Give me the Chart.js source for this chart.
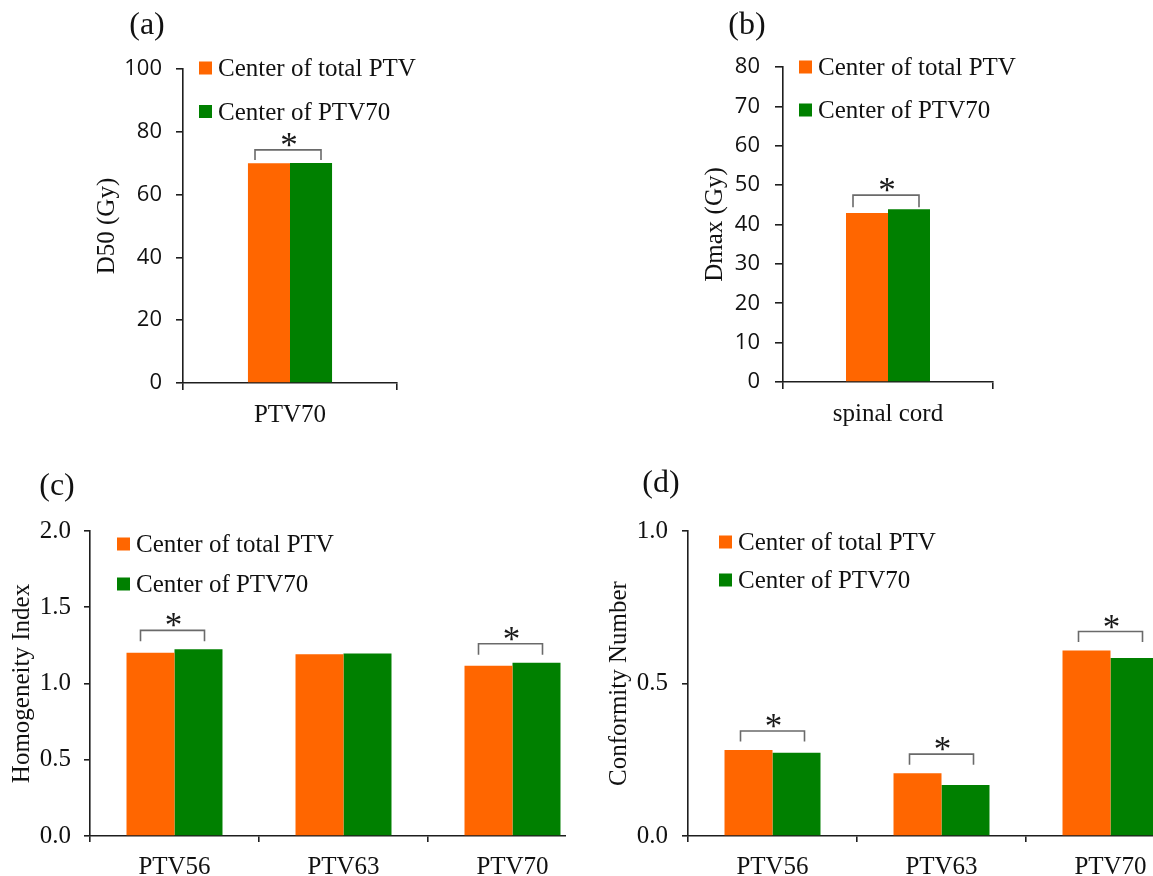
<!DOCTYPE html>
<html><head><meta charset="utf-8">
<script src="https://cdn.jsdelivr.net/npm/chart.js@4.4.1/dist/chart.umd.min.js"></script>
<style>
html,body{margin:0;padding:0;background:#fff;overflow:hidden;width:1153px;height:876px;}
.clip{position:absolute;left:0;top:0;height:876px;overflow:hidden;}
canvas{position:absolute;left:0;top:0;}
</style></head><body>
<div class="clip" style="width:560px"><canvas id="ca" width="560" height="876" style="width:560px;height:876px"></canvas></div>
<div class="clip" style="width:1153px"><canvas id="cb" width="1153" height="876" style="width:1153px;height:876px"></canvas></div>
<div class="clip" style="width:566px"><canvas id="cc" width="600" height="876" style="width:600px;height:876px"></canvas></div>
<div class="clip" style="width:1153px"><canvas id="cd" width="1200" height="876" style="width:1200px;height:876px"></canvas></div>
<script>
// ---- data ----
const seriesNames = ['Center of total PTV', 'Center of PTV70'];

const aCategories = ['PTV70'];
const aTotalPTV = [70.0];
const aPTV70 = [70.1];
const aSignificant = [true];
const aYTicks = [0, 20, 40, 60, 80, 100];
const aYTitle = 'D50 (Gy)';
const aPanel = '(a)';

const bCategories = ['spinal cord'];
const bTotalPTV = [42.9];
const bPTV70 = [43.9];
const bSignificant = [true];
const bYTicks = [0, 10, 20, 30, 40, 50, 60, 70, 80];
const bYTitle = 'Dmax (Gy)';
const bPanel = '(b)';

const cCategories = ['PTV56', 'PTV63', 'PTV70'];
const cTotalPTV = [1.202, 1.191, 1.117];
const cPTV70 = [1.224, 1.197, 1.136];
const cSignificant = [true, false, true];
const cYTicks = [0.0, 0.5, 1.0, 1.5, 2.0];
const cYTitle = 'Homogeneity Index';
const cPanel = '(c)';

const dCategories = ['PTV56', 'PTV63', 'PTV70'];
const dTotalPTV = [0.282, 0.206, 0.608];
const dPTV70 = [0.273, 0.167, 0.584];
const dSignificant = [true, true, true];
const dYTicks = [0.0, 0.5, 1.0];
const dYTitle = 'Conformity Number';
const dPanel = '(d)';

// ---- style ----
const ORANGE = '#FF6600', GREEN = '#008000', AXIS = '#1e1e1e', TXT = '#111';
const SERIF = '"Liberation Serif", "Times New Roman", serif';
const SANS = '"Open Sans", "DejaVu Sans", sans-serif';

const annot = {
  id: 'annot',
  afterDraw(chart, args, o) {
    const ctx = chart.ctx, xs = chart.scales.x, ys = chart.scales.y, ca = chart.chartArea;
    const ds = chart.data.datasets;
    ctx.save();
    ctx.fillStyle = TXT; ctx.textAlign = 'center'; ctx.textBaseline = 'middle';
    ctx.font = '32px ' + SERIF;
    ctx.fillText(o.panel, o.panelX, o.panelY);
    ds.forEach((d, i) => {
      const cy = ca.top + o.legendY[i], lx = ca.left + o.legendX;
      ctx.fillStyle = d.backgroundColor;
      ctx.fillRect(lx, cy - o.sq / 2, o.sq, o.sq);
      ctx.fillStyle = TXT; ctx.textAlign = 'left'; ctx.textBaseline = 'alphabetic';
      ctx.font = o.legendSize + 'px ' + SERIF;
      ctx.fillText(d.label, lx + o.sq + 6, cy + 8);
    });
    o.sig.forEach((s, i) => {
      if (!s) return;
      const cx = xs.getPixelForValue(i) + o.bOff;
      const top = Math.min(...ds.map(d => ys.getPixelForValue(d.data[i])));
      const yb = top - o.gap, yt = yb - o.bh;
      ctx.strokeStyle = '#6a6a6a'; ctx.lineWidth = 1.6;
      ctx.beginPath();
      ctx.moveTo(cx - o.bw, yb); ctx.lineTo(cx - o.bw, yt);
      ctx.lineTo(cx + o.bw, yt); ctx.lineTo(cx + o.bw, yb);
      ctx.stroke();
      ctx.fillStyle = '#1a1a1a'; ctx.textAlign = 'center'; ctx.textBaseline = 'alphabetic';
      ctx.font = '35px ' + SERIF;
      ctx.fillText('*', cx + 1, yt + 7);
    });
    ctx.restore();
  }
};

function makeChart(id, p) {
  const cv = document.getElementById(id);
  const cw = cv.width;
  return new Chart(cv, {
    type: 'bar',
    data: {
      labels: p.categories,
      datasets: [
        { label: seriesNames[0], data: p.s1, backgroundColor: ORANGE, borderWidth: 0, categoryPercentage: p.cp, barPercentage: 1 },
        { label: seriesNames[1], data: p.s2, backgroundColor: GREEN, borderWidth: 0, categoryPercentage: p.cp, barPercentage: 1 }
      ]
    },
    options: {
      responsive: false, animation: false, events: [],
      layout: { padding: { left: p.L - p.W, top: p.T, right: cw - p.R, bottom: 876 - p.B - p.H } },
      plugins: {
        legend: { display: false }, tooltip: { enabled: false },
        annot: p.annot
      },
      scales: {
        x: {
          type: 'category', offset: true,
          grid: { offset: true, drawOnChartArea: false, drawTicks: true, tickLength: p.xtl, color: AXIS, lineWidth: 1.6 },
          border: { display: true, color: AXIS, width: 1.6 },
          ticks: { font: { family: SERIF, size: 25 }, color: TXT, padding: p.xpad, maxRotation: 0, autoSkip: false },
          afterFit(s) { s.height = p.H; s.paddingLeft = 0; s.paddingRight = 0; }
        },
        y: {
          min: p.yTicks[0], max: p.yTicks[p.yTicks.length - 1],
          afterBuildTicks(s) { s.ticks = p.yTicks.map(v => ({ value: v })); },
          grid: { drawOnChartArea: false, drawTicks: true, tickLength: p.ytl, color: AXIS, lineWidth: 1.6 },
          border: { display: true, color: AXIS, width: 1.6 },
          ticks: { font: p.tickFont, color: TXT, padding: p.ypad, callback: v => Number(v).toFixed(p.dec) },
          title: { display: true, text: p.yTitle, font: { family: SERIF, size: 25 }, color: TXT, padding: 0 },
          afterFit(s) { s.width = p.W; s.paddingTop = 0; s.paddingBottom = 0; }
        }
      }
    },
    plugins: [annot]
  });
}

makeChart('ca', {
  categories: aCategories, s1: aTotalPTV, s2: aPTV70, yTicks: aYTicks, yTitle: aYTitle, dec: 0,
  L: 183, R: 397, T: 69, B: 383, W: 91, H: 60, cp: 0.393,
  xtl: 7, xpad: 10, ytl: 7, ypad: 14, tickFont: { family: SANS, size: 22 },
  annot: { panel: aPanel, panelX: 147, panelY: 26, legendX: 16, legendY: [-1, 42.5], sq: 13, legendSize: 25,
           sig: aSignificant, bw: 33, bOff: -2, gap: 3, bh: 10 }
});
makeChart('cb', {
  categories: bCategories, s1: bTotalPTV, s2: bPTV70, yTicks: bYTicks, yTitle: bYTitle, dec: 0,
  L: 783, R: 993, T: 67, B: 382, W: 83, H: 60, cp: 0.4,
  xtl: 7, xpad: 10, ytl: 8, ypad: 15, tickFont: { family: SANS, size: 22 },
  annot: { panel: bPanel, panelX: 747, panelY: 26, legendX: 16, legendY: [0, 43], sq: 13, legendSize: 25,
           sig: bSignificant, bw: 33, bOff: -2, gap: 2, bh: 12 }
});
makeChart('cc', {
  categories: cCategories, s1: cTotalPTV, s2: cPTV70, yTicks: cYTicks, yTitle: cYTitle, dec: 1,
  L: 90, R: 597, T: 531, B: 836, W: 83, H: 40, cp: 0.568,
  xtl: 6, xpad: 10, ytl: 6, ypad: 13, tickFont: { family: SERIF, size: 25 },
  annot: { panel: cPanel, panelX: 57, panelY: 487, legendX: 27, legendY: [13, 53], sq: 13, legendSize: 25,
           sig: cSignificant, bw: 32, bOff: -2, gap: 8, bh: 11 }
});
makeChart('cd', {
  categories: dCategories, s1: dTotalPTV, s2: dPTV70, yTicks: dYTicks, yTitle: dYTitle, dec: 1,
  L: 688, R: 1195, T: 531, B: 836, W: 84, H: 40, cp: 0.568,
  xtl: 6, xpad: 10, ytl: 6, ypad: 14, tickFont: { family: SERIF, size: 25 },
  annot: { panel: dPanel, panelX: 661, panelY: 484, legendX: 31, legendY: [11, 49], sq: 13, legendSize: 25,
           sig: dSignificant, bw: 32, bOff: 0, gap: 8.5, bh: 10.5 }
});
</script>
</body></html>
